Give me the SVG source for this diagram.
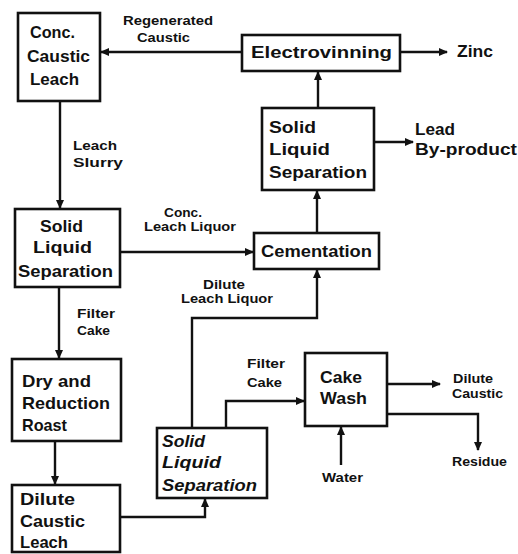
<svg xmlns="http://www.w3.org/2000/svg" width="518" height="554" viewBox="0 0 518 554">
<style>
.box{fill:none;stroke:#111;stroke-width:2.6}
.ln{fill:none;stroke:#111;stroke-width:2.4;marker-end:url(#ah)}
.big{font-family:"Liberation Sans",Arial,sans-serif;font-weight:bold;font-size:17px;fill:#111}
.sm{font-family:"Liberation Sans",Arial,sans-serif;font-weight:bold;font-size:12.5px;fill:#111}
.it{font-style:italic}
</style>
<defs>
<marker id="ah" markerUnits="userSpaceOnUse" markerWidth="9" markerHeight="8" refX="8" refY="4" orient="auto">
<path d="M0,0 L9,4 L0,8 Z" fill="#111"/>
</marker>
</defs>
<rect width="518" height="554" fill="#fff"/>
<g id="connectors">
<path class="ln" d="M242,52 H101"/>
<path class="ln" d="M400,52 H447"/>
<path class="ln" d="M318,108 V72"/>
<path class="ln" d="M374,142 H413"/>
<path class="ln" d="M317,233 V191"/>
<path class="ln" d="M60,101 V208"/>
<path class="ln" d="M121,252 H253"/>
<path class="ln" d="M59,287 V358"/>
<path class="ln" d="M55,441 V484"/>
<path class="ln" d="M120,517 H205 V499"/>
<path class="ln" d="M192,428 V318 H317 V270"/>
<path class="ln" d="M226,428 V401 H304"/>
<path class="ln" d="M387,384 H440"/>
<path class="ln" d="M387,414 H478 V450"/>
<path class="ln" d="M341,465 V427"/>
</g>
<g id="labels">
<text class="sm" x="123" y="25" textLength="90" lengthAdjust="spacingAndGlyphs">Regenerated</text>
<text class="sm" x="137" y="42" textLength="53" lengthAdjust="spacingAndGlyphs">Caustic</text>
<text class="sm" x="73" y="150" textLength="44" lengthAdjust="spacingAndGlyphs">Leach</text>
<text class="sm" x="73" y="167" textLength="50" lengthAdjust="spacingAndGlyphs">Slurry</text>
<text class="sm" x="164" y="216.5" textLength="38" lengthAdjust="spacingAndGlyphs">Conc.</text>
<text class="sm" x="144" y="231" textLength="92" lengthAdjust="spacingAndGlyphs">Leach Liquor</text>
<text class="sm" x="77" y="318" textLength="38" lengthAdjust="spacingAndGlyphs">Filter</text>
<text class="sm" x="77" y="335" textLength="33" lengthAdjust="spacingAndGlyphs">Cake</text>
<text class="sm" x="203" y="289" textLength="42" lengthAdjust="spacingAndGlyphs">Dilute</text>
<text class="sm" x="181" y="303" textLength="92" lengthAdjust="spacingAndGlyphs">Leach Liquor</text>
<text class="sm" x="247" y="368" textLength="38" lengthAdjust="spacingAndGlyphs">Filter</text>
<text class="sm" x="247" y="387" textLength="35" lengthAdjust="spacingAndGlyphs">Cake</text>
<text class="sm" x="453" y="383" textLength="40" lengthAdjust="spacingAndGlyphs">Dilute</text>
<text class="sm" x="452" y="398" textLength="51" lengthAdjust="spacingAndGlyphs">Caustic</text>
<text class="sm" x="452" y="466" textLength="55" lengthAdjust="spacingAndGlyphs">Residue</text>
<text class="sm" x="322" y="482" textLength="41" lengthAdjust="spacingAndGlyphs">Water</text>
<text class="big" x="457" y="57" textLength="36" lengthAdjust="spacingAndGlyphs">Zinc</text>
<text class="big" x="415" y="135" textLength="40" lengthAdjust="spacingAndGlyphs">Lead</text>
<text class="big" x="415" y="155" textLength="102" lengthAdjust="spacingAndGlyphs">By-product</text>
</g>
<g id="conc-caustic-leach">
<rect class="box" x="18" y="13" width="82" height="88"/>
<text class="big" x="30" y="38" textLength="45" lengthAdjust="spacingAndGlyphs">Conc.</text>
<text class="big" x="27" y="62" textLength="63" lengthAdjust="spacingAndGlyphs">Caustic</text>
<text class="big" x="30" y="85" textLength="49" lengthAdjust="spacingAndGlyphs">Leach</text>
</g>
<g id="electrovinning">
<rect class="box" x="242" y="35" width="158" height="36"/>
<text class="big" x="251" y="58" textLength="141" lengthAdjust="spacingAndGlyphs">Electrovinning</text>
</g>
<g id="sls-lead">
<rect class="box" x="262" y="108" width="112" height="82"/>
<text class="big" x="269" y="133" textLength="47" lengthAdjust="spacingAndGlyphs">Solid</text>
<text class="big" x="269" y="155" textLength="61" lengthAdjust="spacingAndGlyphs">Liquid</text>
<text class="big" x="269" y="178" textLength="98" lengthAdjust="spacingAndGlyphs">Separation</text>
</g>
<g id="cementation">
<rect class="box" x="254" y="233" width="125" height="36"/>
<text class="big" x="261" y="257" textLength="111" lengthAdjust="spacingAndGlyphs">Cementation</text>
</g>
<g id="sls-conc">
<rect class="box" x="15" y="209" width="105" height="78"/>
<text class="big" x="40" y="232" textLength="43" lengthAdjust="spacingAndGlyphs">Solid</text>
<text class="big" x="33" y="253" textLength="59" lengthAdjust="spacingAndGlyphs">Liquid</text>
<text class="big" x="18" y="277" textLength="95" lengthAdjust="spacingAndGlyphs">Separation</text>
</g>
<g id="dry-reduction-roast">
<rect class="box" x="12" y="359" width="109" height="82"/>
<text class="big" x="22" y="387" textLength="69" lengthAdjust="spacingAndGlyphs">Dry and</text>
<text class="big" x="22" y="409" textLength="88" lengthAdjust="spacingAndGlyphs">Reduction</text>
<text class="big" x="22" y="431" textLength="45" lengthAdjust="spacingAndGlyphs">Roast</text>
</g>
<g id="dilute-caustic-leach">
<rect class="box" x="12" y="485" width="108" height="67"/>
<text class="big" x="20" y="505" textLength="55" lengthAdjust="spacingAndGlyphs">Dilute</text>
<text class="big" x="20" y="527" textLength="65" lengthAdjust="spacingAndGlyphs">Caustic</text>
<text class="big" x="20" y="548" textLength="48" lengthAdjust="spacingAndGlyphs">Leach</text>
</g>
<g id="sls-dilute">
<rect class="box" x="157" y="428" width="110" height="70"/>
<text class="big it" x="162" y="447" textLength="43" lengthAdjust="spacingAndGlyphs">Solid</text>
<text class="big it" x="162" y="468" textLength="59" lengthAdjust="spacingAndGlyphs">Liquid</text>
<text class="big it" x="162" y="491" textLength="95" lengthAdjust="spacingAndGlyphs">Separation</text>
</g>
<g id="cake-wash">
<rect class="box" x="305" y="353" width="82" height="73"/>
<text class="big" x="320" y="383" textLength="42" lengthAdjust="spacingAndGlyphs">Cake</text>
<text class="big" x="320" y="404" textLength="47" lengthAdjust="spacingAndGlyphs">Wash</text>
</g>
</svg>
